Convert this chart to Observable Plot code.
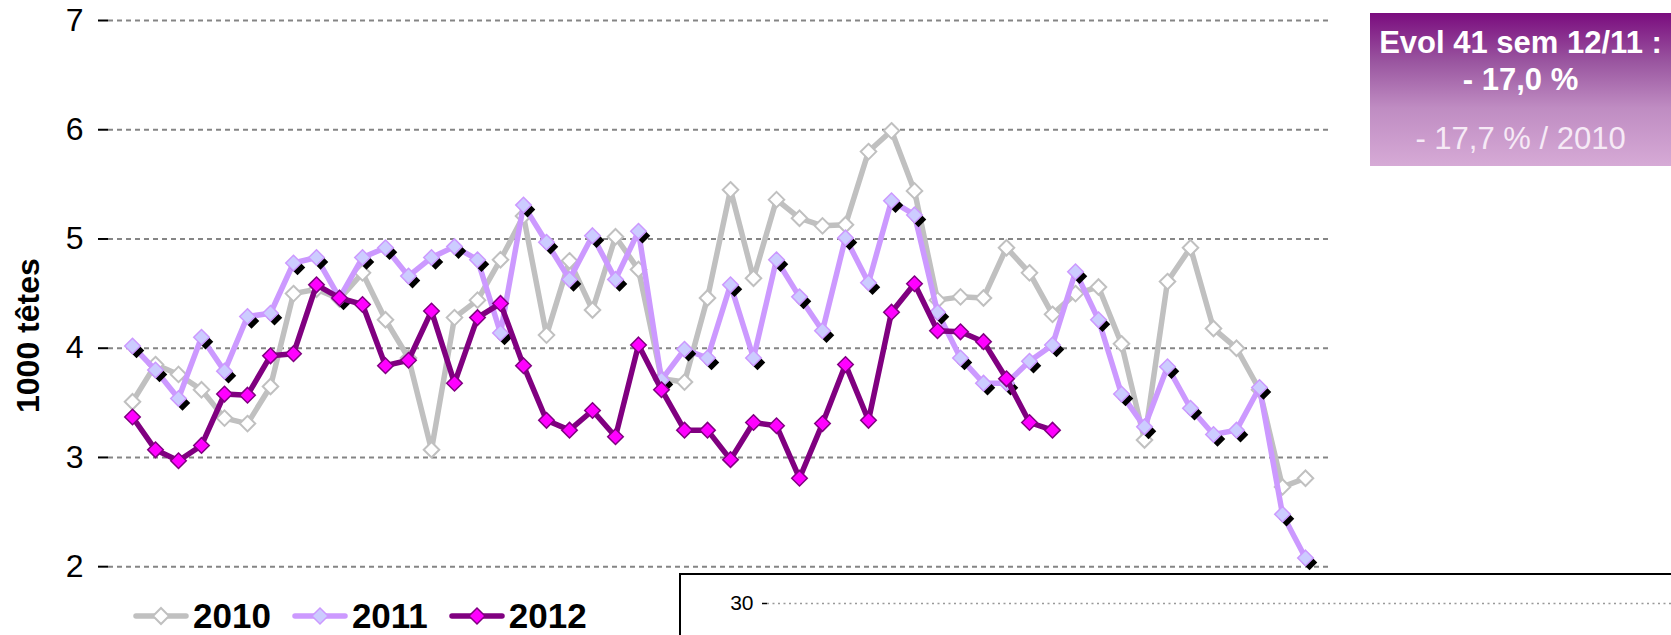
<!DOCTYPE html>
<html>
<head>
<meta charset="utf-8">
<script src="https://cdn.jsdelivr.net/npm/d3@7"></script>
<script src="https://cdn.jsdelivr.net/npm/@observablehq/plot@0.6"></script>
<style>
  html, body { margin: 0; padding: 0; background: #fff; overflow: hidden; }
  #wrap { position: relative; width: 1671px; height: 635px; overflow: hidden;
          font-family: "Liberation Sans", Arial, sans-serif; }
  #main { position: absolute; left: 0; top: 0; }
  #box { position: absolute; left: 1370px; top: 13px; width: 301px; height: 153px;
         background: linear-gradient(to bottom, #7a0c7e 0%, #9a56a0 32%, #bf8cc2 62%, #d6aad6 100%);
         color: #fff; text-align: center; font-size: 31px; }
  #box .l1, #box .l2 { font-weight: bold; line-height: 37px; white-space: nowrap; }
  #box .l1 { margin-top: 11px; }
  #box .l3 { position: absolute; left: 0; right: 0; top: 107px; line-height: 37px; color: #f6eaf6; white-space: nowrap; }
  #legend { position: absolute; left: 133px; top: 599px; height: 34px; display: flex; align-items: center; }
  #legend .item { display: flex; align-items: center; margin-right: 21px; height: 34px; }
  #legend .item span { font-weight: bold; font-size: 35px; line-height: 34px; margin-left: 4px; color: #000; }
  #inset { position: absolute; left: 679px; top: 573px; width: 992px; height: 62px;
           border-left: 2px solid #000; border-top: 2px solid #000; background: #fff; overflow: hidden; }
</style>
</head>
<body>
<div id="wrap">
  <div id="main"></div>
  <div id="legend"></div>
  <div id="inset"></div>
  <div id="box">
    <div class="l1">Evol 41 sem 12/11 :</div>
    <div class="l2">- 17,0 %</div>
    <div class="l3">- 17,7 % / 2010</div>
  </div>
</div>
<script>
// ---- data ----
const weeks = [1,2,3,4,5,6,7,8,9,10,11,12,13,14,15,16,17,18,19,20,21,22,23,24,25,26,
               27,28,29,30,31,32,33,34,35,36,37,38,39,40,41,42,43,44,45,46,47,48,49,50,51,52];
const v2010 = [3.51,3.85,3.76,3.62,3.36,3.31,3.65,4.50,4.54,4.45,
               4.69,4.26,3.91,3.07,4.28,4.44,4.81,5.21,4.12,4.80,
               4.35,5.02,4.72,3.72,3.69,4.46,5.45,4.64,5.36,5.19,
               5.12,5.13,5.80,5.99,5.44,4.44,4.47,4.46,4.92,4.69,
               4.31,4.50,4.56,4.04,3.16,4.61,4.92,4.18,4.00,3.62,
               2.73,2.81];
const v2011 = [4.02,3.80,3.54,4.10,3.79,4.29,4.32,4.78,4.83,4.46,
               4.83,4.92,4.66,4.83,4.93,4.81,4.14,5.31,4.97,4.63,
               5.03,4.63,5.07,3.71,3.99,3.91,4.58,3.91,4.81,4.47,
               4.16,5.01,4.60,5.35,5.22,4.33,3.91,3.68,3.68,3.88,
               4.03,4.70,4.26,3.58,3.28,3.83,3.45,3.21,3.25,3.64,
               2.48,2.08];
const v2012 = [3.37,3.07,2.97,3.11,3.58,3.57,3.93,3.95,4.58,4.46,
               4.40,3.84,3.89,4.34,3.68,4.28,4.41,3.84,3.34,3.25,
               3.43,3.19,4.03,3.62,3.25,3.25,2.98,3.32,3.29,2.81,
               3.31,3.85,3.34,4.33,4.59,4.16,4.15,4.06,3.72,3.32,
               3.25];
const yTicks = [2,3,4,5,6,7];
const seriesNames = ["2010","2011","2012"];
const yLabel = "1000 têtes";
const insetTicks = [30];

// ---- styles ----
const styles = {
  "2010": {line: "#c0c0c0", fill: "#ffffff", stroke: "#c0c0c0", sw: 2},
  "2011": {line: "#cc99ff", fill: "#ccccff", stroke: "#cc99ff", sw: 1.5},
  "2012": {line: "#800080", fill: "#ff00ff", stroke: "#800080", sw: 1.5}
};

const toRows = (vals) => vals.map((v, i) => ({week: weeks[i], value: v}));
const d2010 = toRows(v2010), d2011 = toRows(v2011), d2012 = toRows(v2012);

const R = 7, LW = 5.5;
const lineMarks = (data, key, shadow) => {
  const s = styles[key];
  const m = [Plot.line(data, {x: "week", y: "value", stroke: s.line, strokeWidth: LW, strokeLinejoin: "round"})];
  if (shadow) m.push(Plot.dot(data, {x: "week", y: "value", symbol: "diamond2", r: R, fill: "#000", dx: 4, dy: 4.5}));
  m.push(Plot.dot(data, {x: "week", y: "value", symbol: "diamond2", r: R, fill: s.fill, stroke: s.stroke, strokeWidth: s.sw}));
  return m;
};

const chart = Plot.plot({
  width: 1671, height: 635,
  marginLeft: 108, marginRight: 342, marginTop: 20, marginBottom: 0,
  style: {fontFamily: "'Liberation Sans', Arial, sans-serif", fontSize: "32px", color: "#000", background: "transparent", overflow: "visible"},
  x: {type: "point", domain: weeks, padding: 0.5, axis: null},
  y: {domain: [1.37, 7], axis: null},
  marks: [
    Plot.ruleY(yTicks, {stroke: "#858585", strokeWidth: 2, strokeDasharray: "5,4"}),
    Plot.axisY({ticks: yTicks, tickSize: 10, tickPadding: 15, fontSize: 32, stroke: "#000", strokeWidth: 2,
                line: true, label: null, tickFormat: d => String(d)}),
    ...lineMarks(d2010, "2010", false),
    ...lineMarks(d2011, "2011", true),
    ...lineMarks(d2012, "2012", false),
    Plot.text([yLabel], {frameAnchor: "left", rotate: -90, dx: -80, dy: 85, fontWeight: "bold", fontSize: 32, fill: "#000"})
  ]
});
document.getElementById("main").appendChild(chart);

// ---- legend ----
const legend = document.getElementById("legend");
for (const name of seriesNames) {
  const s = styles[name];
  const item = document.createElement("div");
  item.className = "item";
  item.innerHTML =
    `<svg width="56" height="22" viewBox="0 0 56 22">
       <line x1="3" y1="11" x2="53" y2="11" stroke="${s.line}" stroke-width="5.5" stroke-linecap="round"/>
       <polygon points="28,3 36,11 28,19 20,11" fill="${s.fill}" stroke="${s.stroke}" stroke-width="${s.sw}"/>
     </svg><span>${name}</span>`;
  legend.appendChild(item);
}

// ---- inset chart (cropped) ----
const inset = Plot.plot({
  width: 990, height: 60,
  marginLeft: 86, marginTop: 28, marginBottom: 0, marginRight: 0,
  style: {fontFamily: "'Liberation Sans', Arial, sans-serif", fontSize: "21px", color: "#000", background: "transparent"},
  x: {domain: [0, 1], axis: null},
  y: {domain: [26, 30], axis: null},
  marks: [
    Plot.ruleY(insetTicks, {stroke: "#999", strokeWidth: 1.5, strokeDasharray: "2,3.5"}),
    Plot.axisY({ticks: insetTicks, tickSize: 5, tickPadding: 9, fontSize: 21, stroke: "#000", strokeWidth: 1.5,
                line: true, label: null, tickFormat: d => String(d)})
  ]
});
document.getElementById("inset").appendChild(inset);
</script>
</body>
</html>
